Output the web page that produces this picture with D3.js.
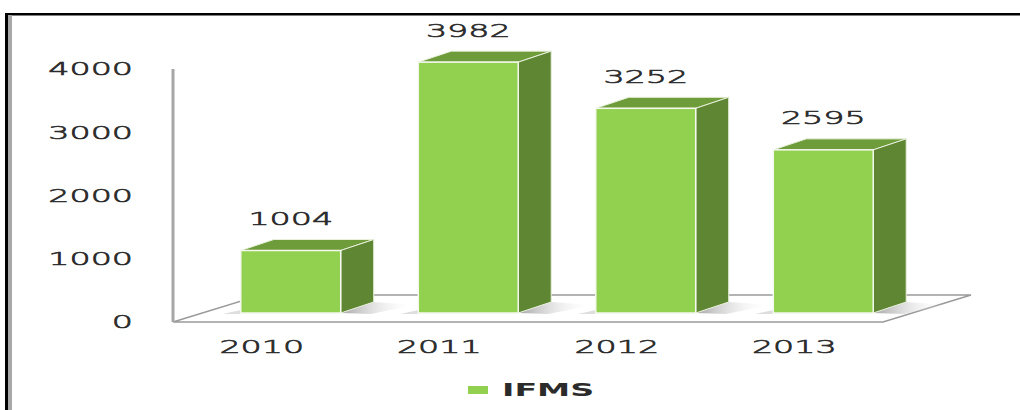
<!DOCTYPE html>
<html>
<head>
<meta charset="utf-8">
<script src="https://cdn.jsdelivr.net/npm/d3@7"></script>
<style>
  body { margin: 0; background: #fff; }
  text { font-family: "DejaVu Sans", Verdana, sans-serif; fill: #2b2b2b; }
  text.lbl { font-weight: 300; stroke: #2b2b2b; stroke-width: 0.6px; }
</style>
</head>
<body>
<div id="drawhere"></div>
<script>
// chart data
var years = ["2010", "2011", "2012", "2013"];
var ifms = [1004, 3982, 3252, 2595];
var yTicks = [0, 1000, 2000, 3000, 4000];
var seriesName = "IFMS";

var W = 1020, H = 410;
var stretch = 1.85; // text in the picture is drawn wide

var svg = d3.select("#drawhere").append("svg")
    .attr("width", W)
    .attr("height", H);

// frame (top and left edges only)
svg.append("rect").attr("x", 5).attr("y", 13).attr("width", W - 5).attr("height", 2.5).attr("fill", "#000");
svg.append("rect").attr("x", 5).attr("y", 13).attr("width", 3).attr("height", H - 13).attr("fill", "#000");
svg.append("rect").attr("x", 8).attr("y", 15).attr("width", 4).attr("height", H - 15).attr("fill", "#a8a8a8");

var x = d3.scaleBand()
    .domain(years)
    .range([173, 883])
    .paddingInner(0.437)
    .paddingOuter(0.2185);

var y = d3.scaleLinear()
    .domain([0, 4000])
    .range([322, 69]);

// depth of the floor and the bars
var depth = {dx: 88, dy: -27};
var front = {dx: 29, dy: -9};
var barDepth = {dx: 33, dy: -11};

var x0 = x.range()[0], x1 = x.range()[1], y0 = y(0);

function pts(list) {
    return list.map(function(p) { return p.join(","); }).join(" ");
}

// floor
svg.append("polygon")
    .attr("points", pts([
        [x0, y0], [x1, y0], [x1 + depth.dx, y0 + depth.dy], [x0 + depth.dx, y0 + depth.dy]
    ]))
    .attr("fill", "#fff")
    .attr("stroke", "#9a9a9a")
    .attr("stroke-width", 1.5);

// value axis line
svg.append("line")
    .attr("x1", x0).attr("x2", x0)
    .attr("y1", y(4000)).attr("y2", y0)
    .attr("stroke", "#a6a6a6")
    .attr("stroke-width", 3);

// tick labels
svg.selectAll(".ytick")
    .data(yTicks)
    .enter().append("text")
    .attr("class", "ytick lbl")
    .attr("transform", function(d) { return "translate(133," + y(d) + ") scale(" + stretch + ",1)"; })
    .attr("text-anchor", "end")
    .attr("dy", "0.36em")
    .style("font-size", "18px")
    .text(function(d) { return d; });

// shadow gradient
var defs = svg.append("defs");
var grad = defs.append("linearGradient").attr("id", "shadow").attr("x1", 0).attr("x2", 1).attr("y1", 0).attr("y2", 0);
grad.append("stop").attr("offset", "0%").attr("stop-color", "#9a9a9a").attr("stop-opacity", 0.9);
grad.append("stop").attr("offset", "100%").attr("stop-color", "#ffffff").attr("stop-opacity", 0);

var bars = svg.selectAll(".bar")
    .data(ifms)
    .enter().append("g")
    .attr("class", "bar");

bars.each(function(v, i) {
    var g = d3.select(this);
    var bx = x(years[i]) + front.dx;
    var bw = x.bandwidth();
    var bb = y0 + front.dy;
    var bt = y(v) + front.dy + 1;

    // shadow on the floor
    g.append("polygon")
        .attr("points", pts([
            [bx + bw, bb], [bx + bw + barDepth.dx, bb + barDepth.dy],
            [bx + bw + barDepth.dx + 42, bb + barDepth.dy + 3], [bx + bw + 30, bb + 1]
        ]))
        .attr("fill", "url(#shadow)");
    g.append("polygon")
        .attr("points", pts([
            [bx - 18, bb + 1], [bx, bb - 3], [bx, bb + 1]
        ]))
        .attr("fill", "#c8c8c8").attr("opacity", 0.6);

    // top face
    g.append("polygon")
        .attr("points", pts([
            [bx, bt], [bx + bw, bt], [bx + bw + barDepth.dx, bt + barDepth.dy], [bx + barDepth.dx, bt + barDepth.dy]
        ]))
        .attr("fill", "#6f9c3a")
        .attr("stroke", "#e8f0dc").attr("stroke-width", 1);

    // side face
    g.append("polygon")
        .attr("points", pts([
            [bx + bw, bt], [bx + bw + barDepth.dx, bt + barDepth.dy], [bx + bw + barDepth.dx, bb + barDepth.dy], [bx + bw, bb]
        ]))
        .attr("fill", "#5f8733")
        .attr("stroke", "#e8f0dc").attr("stroke-width", 1);

    // front face
    g.append("rect")
        .attr("x", bx)
        .attr("y", bt)
        .attr("width", bw)
        .attr("height", bb - bt)
        .attr("fill", "#92d050")
        .attr("stroke", "#f4f8ee").attr("stroke-width", 1.5);

    // value label
    g.append("text")
        .attr("class", "lbl")
        .attr("transform", "translate(" + (bx + bw / 2) + "," + (bt - 32) + ") scale(" + stretch + ",1)")
        .attr("text-anchor", "middle")
        .attr("dy", "0.36em")
        .style("font-size", "18px")
        .text(v);
});

// category labels
svg.selectAll(".xtick")
    .data(years)
    .enter().append("text")
    .attr("class", "xtick lbl")
    .attr("transform", function(d) { return "translate(" + (x(d) + x.bandwidth() / 2) + ",347) scale(" + stretch + ",1)"; })
    .attr("text-anchor", "middle")
    .attr("dy", "0.36em")
    .style("font-size", "18px")
    .text(function(d) { return d; });

// legend
svg.append("rect")
    .attr("x", 468).attr("y", 386)
    .attr("width", 20).attr("height", 8)
    .attr("fill", "#92d050");
svg.append("text")
    .attr("transform", "translate(502,390) scale(" + stretch + ",1)")
    .attr("dy", "0.36em")
    .style("font-size", "18px")
    .style("font-weight", "bold")
    .text(seriesName);
</script>
</body>
</html>
